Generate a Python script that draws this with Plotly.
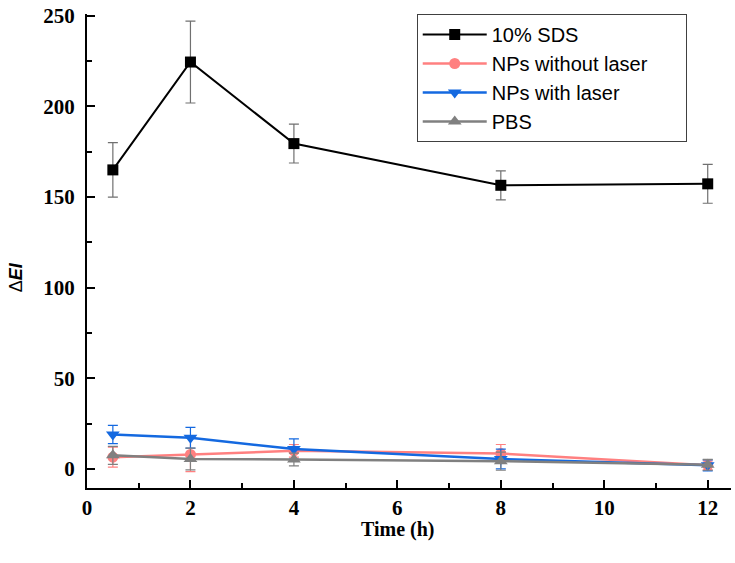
import plotly.graph_objects as go

time_h = [0.5, 2, 4, 8, 12]

sds = [165, 224.5, 179.5, 156.5, 157.3]
sds_err = [15, 22.6, 10.7, 8, 10.7]

np_no_laser = [6.5, 8, 10, 8.5, 2]
np_no_laser_err = [5.5, 9.5, 3.5, 5, 2.5]

np_laser = [19, 17.2, 11, 5.5, 2]
np_laser_err = [5, 5.7, 5.6, 5.5, 3]

pbs = [7.5, 5.5, 5.2, 4.3, 2.3]
pbs_err = [5, 6, 3.5, 5, 3]

x_ticks = [0, 2, 4, 6, 8, 10, 12]
y_ticks = [0, 50, 100, 150, 200, 250]

series = [
    ("10% SDS", sds, sds_err, "#000000", "#707070", "square", 11, 2),
    ("NPs without laser" + "\u00a0" * 6, np_no_laser, np_no_laser_err, "#FF8080", "#FF8080", "circle", 11, 2.5),
    ("NPs with laser", np_laser, np_laser_err, "#1469E0", "#1469E0", "triangle-down", 12, 2.5),
    ("PBS", pbs, pbs_err, "#808080", "#808080", "triangle-up", 12, 2.5),
]

fig = go.Figure()
for name, vals, errs, col, ecol, sym, msize, lw in series:
    fig.add_trace(go.Scatter(
        x=time_h, y=vals, name=name, mode="lines+markers",
        line=dict(color=col, width=lw),
        marker=dict(symbol=sym, size=msize, color=col),
        error_y=dict(type="data", array=errs, visible=True, color=ecol,
                     thickness=1.2, width=5),
    ))

tickfont = dict(family="Liberation Serif", size=21, color="black", weight="bold")

fig.update_layout(
    width=735, height=563,
    margin=dict(l=87, r=4, t=10, b=75),
    paper_bgcolor="white", plot_bgcolor="white",
    showlegend=True,
    legend=dict(
        x=0.512, y=1.0, xanchor="left", yanchor="top",
        bordercolor="#404040", borderwidth=1, bgcolor="white",
        font=dict(family="Liberation Sans", size=20, color="black"),
        tracegroupgap=0, itemwidth=64,
    ),
    xaxis=dict(
        range=[0, 12.45], tickvals=x_ticks, ticks="inside", ticklen=8,
        tickwidth=2, tickcolor="black", showline=True, linecolor="black",
        linewidth=2, showgrid=False, zeroline=False, tickfont=tickfont,
        ticklabelstandoff=0,
        minor=dict(dtick=1, ticks="inside", ticklen=5, tickwidth=2,
                   tickcolor="black", showgrid=False),
    ),
    yaxis=dict(
        range=[-10.5, 251], tickvals=y_ticks, ticks="inside", ticklen=8,
        tickwidth=2, tickcolor="black", showline=True, linecolor="black",
        linewidth=2, showgrid=False, zeroline=False, tickfont=tickfont,
        ticklabelstandoff=6,
        minor=dict(dtick=25, ticks="inside", ticklen=5, tickwidth=2,
                   tickcolor="black", showgrid=False),
    ),
    annotations=[
        dict(text="Time (h)", xref="paper", yref="paper", x=0.483, y=-0.088,
             showarrow=False, xanchor="center", yanchor="middle",
             font=dict(family="Liberation Serif", size=20, color="black",
                       weight="bold")),
        dict(text="Δ<b><i>EI</i></b>", xref="paper", yref="paper",
             x=-0.11, y=0.445, showarrow=False, textangle=-90,
             xanchor="center", yanchor="middle",
             font=dict(family="Liberation Sans", size=18, color="black")),
    ],
)

fig.write_html("out.html", config={"displayModeBar": False},
               post_script="document.body.style.margin='0';")
